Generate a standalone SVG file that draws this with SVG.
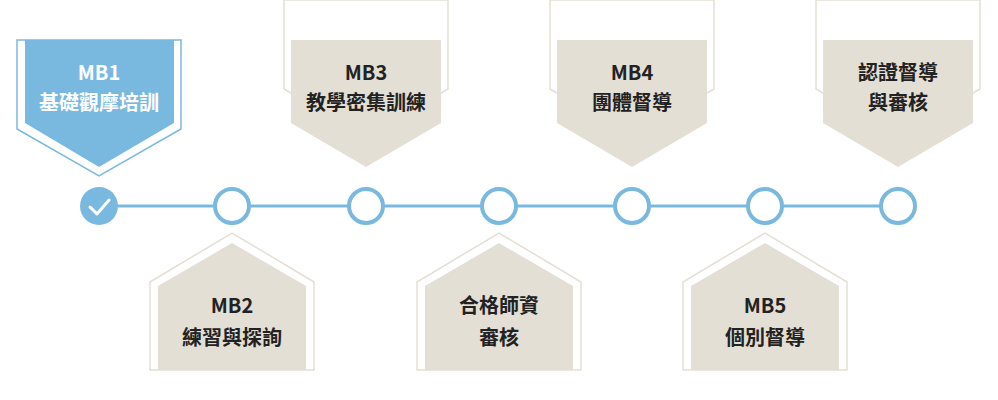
<svg xmlns="http://www.w3.org/2000/svg" width="998" height="400" viewBox="0 0 998 400">
<style>
.t{font-family:"Noto Sans CJK TC","Noto Sans",sans-serif;font-weight:bold;font-size:20px;text-anchor:middle;fill:#222}
.w{fill:#fff}
.f{fill:#e3dfd5}
.o{fill:none;stroke:#e3dfd5;stroke-width:1.5}
.c{fill:#fff;stroke:#7ab9df;stroke-width:4}
</style>
<defs>
<g id="down"><polygon class="o" points="-82,0 82,0 82,89 0,136 -82,89" transform="translate(0,-40)"/><polygon class="f" points="-75,0 75,0 75,83 0,127 -75,83"/></g>
<g id="up"><polygon class="o" points="-82,137 -82,49 0,0 82,49 82,137"/><polygon class="f" points="-74,137 -74,53 0,10 74,53 74,137"/></g>
</defs>
<g id="connectors"><line x1="99" y1="206" x2="898" y2="206" stroke="#7ab9df" stroke-width="3"/></g>
<g id="mb1"><polygon points="17,40 181,40 181,129 99,176 17,129" fill="none" stroke="#7ab9df" stroke-width="1.5"/><polygon points="25,40 174,40 174,123 99,167 25,123" fill="#7ab9df"/><text class="t w" x="99" y="80">MB1</text><text class="t w" x="99" y="110">基礎觀摩培訓</text></g>
<g id="mb3"><use href="#down" x="366" y="40"/><text class="t" x="366" y="80">MB3</text><text class="t" x="366" y="110">教學密集訓練</text></g>
<g id="mb4"><use href="#down" x="632" y="40"/><text class="t" x="632" y="80">MB4</text><text class="t" x="632" y="110">團體督導</text></g>
<g id="cert"><use href="#down" x="898" y="40"/><text class="t" x="898" y="80">認證督導</text><text class="t" x="898" y="110">與審核</text></g>
<g id="mb2"><use href="#up" x="232" y="233"/><text class="t" x="232" y="313">MB2</text><text class="t" x="232" y="345">練習與探詢</text></g>
<g id="qual"><use href="#up" x="499" y="233"/><text class="t" x="499" y="313">合格師資</text><text class="t" x="499" y="345">審核</text></g>
<g id="mb5"><use href="#up" x="765" y="233"/><text class="t" x="765" y="313">MB5</text><text class="t" x="765" y="345">個別督導</text></g>
<g id="steps">
<circle cx="99" cy="206" r="19" fill="#7ab9df"/><polyline points="90,207 97,214 109,200" fill="none" stroke="#fff" stroke-width="3" stroke-linecap="round" stroke-linejoin="round"/>
<circle class="c" cx="232" cy="206" r="17"/><circle class="c" cx="366" cy="206" r="17"/><circle class="c" cx="499" cy="206" r="17"/><circle class="c" cx="632" cy="206" r="17"/><circle class="c" cx="765" cy="206" r="17"/><circle class="c" cx="898" cy="206" r="17"/>
</g>
</svg>
